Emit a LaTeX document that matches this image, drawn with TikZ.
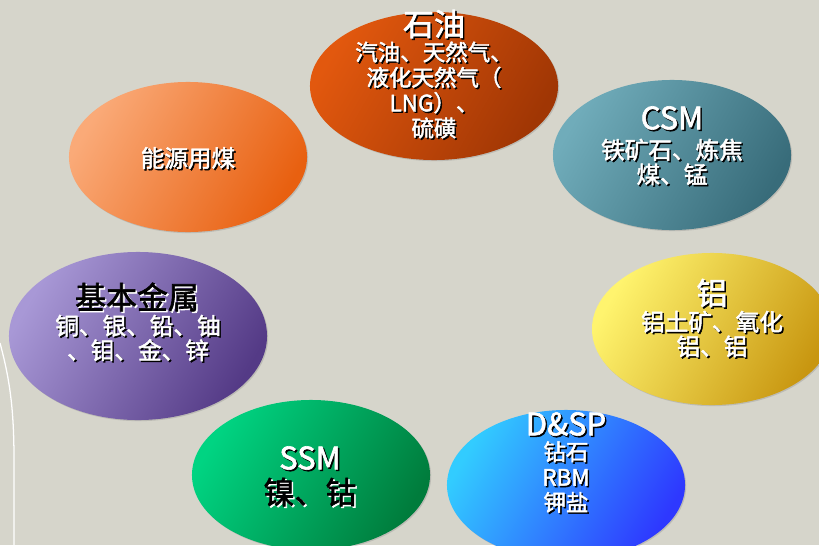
\documentclass[tikz,border=0pt]{standalone}
\usepackage{fontspec}
\newfontfamily\cjk{Noto Sans CJK SC}[FakeBold=2]
\usetikzlibrary{shapes.geometric,shadows,calc}

\definecolor{bgpaper}{RGB}{214,213,203}
\definecolor{oilA}{RGB}{226,88,14}\definecolor{oilB}{RGB}{160,54,4}
\definecolor{csmA}{RGB}{112,172,186}\definecolor{csmB}{RGB}{56,108,122}
\definecolor{coalA}{RGB}{250,170,120}\definecolor{coalB}{RGB}{232,96,16}
\definecolor{baseA}{RGB}{168,152,214}\definecolor{baseB}{RGB}{84,58,134}
\definecolor{alumA}{RGB}{255,244,110}\definecolor{alumB}{RGB}{200,150,16}
\definecolor{ssmA}{RGB}{0,212,130}\definecolor{ssmB}{RGB}{0,124,60}
\definecolor{dspA}{RGB}{50,204,255}\definecolor{dspB}{RGB}{46,56,255}

\tikzset{
  blob/.style={ellipse,inner sep=0pt,minimum width=5.95cm,minimum height=3.75cm,
    drop shadow={opacity=0.3,shadow xshift=0.8pt,shadow yshift=-0.8pt}},
  paint/.style 2 args={top color=#1,bottom color=#2,shading angle=60},
  ttl/.style={font=\cjk\fontsize{22}{24}\selectfont,text=white,inner sep=0pt},
  txt/.style={font=\cjk\fontsize{16.8}{17.5}\selectfont,text=white,align=center,inner sep=0pt},
  txtsm/.style={font=\cjk\fontsize{16}{18}\selectfont,text=white,align=center,inner sep=0pt},
  dark/.style={text=black}
}
% label with a shadow: name, position, style, shadow colour, text
\newcommand\shlabel[5]{%
  \node[#3,text=#4] at ($(#2)+(1.5,1.5)$) {#5};
  \node[#3] (#1) at (#2) {#5};}

\begin{document}
\begin{tikzpicture}[x=0.025cm,y=-0.025cm]
  \fill[bgpaper] (0,0) rectangle (819,545);
  \useasboundingbox (0,0) rectangle (819,545);
  \draw[white,line width=0.9pt] (0,343) .. controls (10,380) and (14,410) .. (14,460) -- (14,545);

  % the seven groups
  \node[blob,paint={oilA}{oilB},minimum width=6.2cm,minimum height=3.7cm] (oil) at (434,86) {};
  \node[blob,paint={csmA}{csmB}] (csm) at (672,155) {};
  \node[blob,paint={coalA}{coalB}] (coal) at (188,157) {};
  \node[blob,paint={baseA}{baseB},minimum width=6.45cm,minimum height=4.2cm] (base) at (138,336) {};
  \node[blob,paint={alumA}{alumB},minimum width=6cm,minimum height=3.8cm] (alum) at (712,329) {};
  \node[blob,paint={ssmA}{ssmB}] (ssm) at (311,475) {};
  \node[blob,paint={dspA}{dspB}] (dsp) at (566,485) {};

  % texts
  \shlabel{oilT}{434,24}{ttl}{black}{石油}
  \shlabel{oilL}{434,90}{txtsm}{black}{汽油、天然气、\\液化天然气（\\LNG）、\\硫磺}
  \shlabel{csmT}{672,118}{ttl}{black}{CSM}
  \shlabel{csmL}{672,162}{txt}{black}{铁矿石、炼焦\\煤、锰}
  \shlabel{coalL}{188,158}{txt}{black}{能源用煤}
  \shlabel{baseT}{137,297}{ttl,dark}{white}{基本金属}
  \shlabel{baseL}{138,338}{txt}{black}{铜、银、铅、铀\\、钼、金、锌}
  \shlabel{alumT}{712,293}{ttl}{black}{铝}
  \shlabel{alumL}{712,334}{txt}{black}{铝土矿、氧化\\铝、铝}
  \shlabel{ssmT}{310,458}{ttl}{black}{SSM}
  \shlabel{ssmL}{310,492}{ttl,dark}{white}{镍、钴}
  \shlabel{dspT}{566,424}{ttl}{black}{D\&SP}
  \shlabel{dspL}{566,477}{txtsm}{black}{钻石\\RBM\\钾盐}
\end{tikzpicture}
\end{document}
